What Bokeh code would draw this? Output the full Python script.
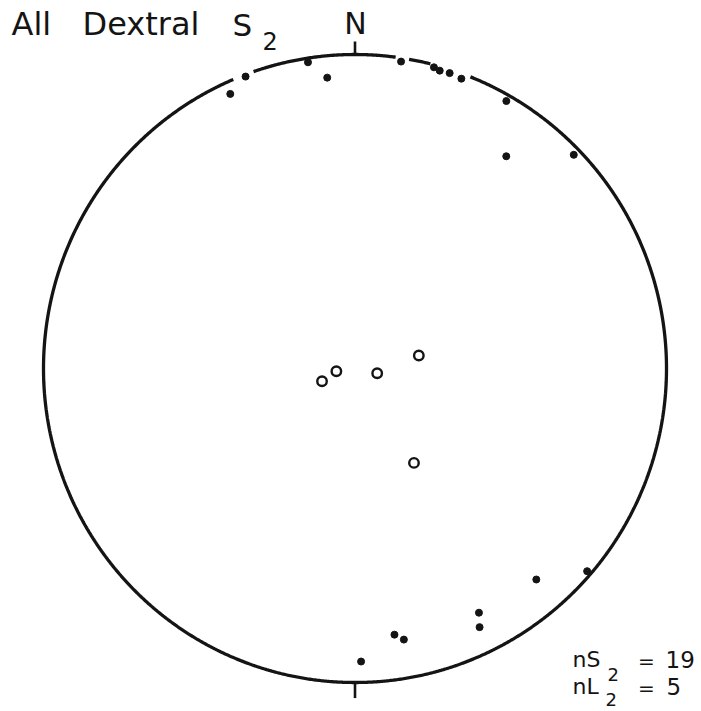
import numpy as np
from bokeh.plotting import figure
from bokeh.models import Range1d
from bokeh.core.properties import value
from bokeh.embed import file_html
from bokeh.resources import INLINE

# ---- data: poles to S2 (filled) and L2 lineations (open), trend / plunge in degrees
s2_trend = [335.4, 339.3, 351.2, 354.5, 8.6, 14.8, 16.0, 17.9, 20.3, 29.7,
            35.7, 45.9, 130.9, 139.1, 152.9, 154.1, 171.5, 169.7, 178.8]
s2_plunge = [4.3, 0.7, 1.5, 7.7, 1.3, 0.9, 1.5, 1.3, 1.8, 2.2,
             17.9, 2.5, 1.6, 12.1, 13.7, 9.3, 15.4, 13.3, 7.4]
l2_trend = [249.0, 261.8, 101.9, 78.6, 147.8]
l2_plunge = [80.8, 85.1, 84.1, 73.0, 60.9]
# primitive circle drawn with small gaps (trend intervals, degrees) as in the drafted original
circle_gaps = [(337.2, 341.0), (7.5, 9.9), (14.0, 21.6)]

title_words = ["All", "Dextral"]
label_s = "S"
label_sub = "2"

# ---- layout (pixels of the page; figure drawn from the page's top-left corner)
W, H = 701, 711
OX, OY = 0, 0
CX, CY, RX, RY = 354.5, 368.0, 311.5, 314.0
INK = "#141414"
FONT = value("DejaVu Sans")


def pd(px, py):
    """page pixel -> data coords (for placing labels)"""
    return (px - CX) / RX, (CY - py) / RY


def project(trend, plunge):
    t = np.radians(np.asarray(trend, float))
    theta = np.radians(90.0 - np.asarray(plunge, float))
    r = np.sqrt(2.0) * np.sin(theta / 2.0)
    return r * np.sin(t), r * np.cos(t)


p = figure(width=W, height=H, output_backend="svg", toolbar_location=None,
           x_range=Range1d((OX - CX) / RX, (OX + W - CX) / RX),
           y_range=Range1d((CY - OY - H) / RY, (CY - OY) / RY),
           min_border=0, outline_line_color=None, background_fill_color="white",
           border_fill_color="white")
p.axis.visible = False
p.grid.visible = False

# primitive circle with gaps
az = np.linspace(0, 360, 1441)
keep = np.ones_like(az, bool)
for a, b in circle_gaps:
    keep &= ~((az > a) & (az < b))
xs, ys = [], []
seg_x, seg_y = [], []
for k, a in zip(keep, az):
    if k:
        seg_x.append(np.sin(np.radians(a)))
        seg_y.append(np.cos(np.radians(a)))
    elif seg_x:
        xs.append(seg_x); ys.append(seg_y); seg_x, seg_y = [], []
if seg_x:
    xs.append(seg_x); ys.append(seg_y)
p.multi_line(xs, ys, line_color=INK, line_width=3.3)

# N and S ticks
tick = 13.0 / RY
p.segment(x0=[0, 0], y0=[1, -1], x1=[0, 0], y1=[1 + tick, -1 - tick * 1.2],
          line_color=INK, line_width=2.6)

# data
sx, sy = project(s2_trend, s2_plunge)
lx, ly = project(l2_trend, l2_plunge)
p.scatter(sx, sy, size=7, marker="circle", fill_color=INK, line_color=INK)
p.scatter(lx, ly, size=9.5, marker="circle", fill_color=None, line_color=INK, line_width=2.4)


def txt(s, px, py, size, align="left"):
    # py is the wanted baseline; the rendered baseline sits ~0.4 em lower
    x, y = pd(px, py - 0.4 * size)
    p.text(x=[x], y=[y], text=[s], text_font=FONT, text_font_size=f"{size}px",
           text_color=INK, text_align=align, text_baseline="alphabetic")


# title
txt(title_words[0], 11, 36.5, 32)
txt(title_words[1], 82, 36.5, 32)
txt(label_s, 232, 36.5, 31)
txt(label_sub, 262, 50, 24)
# north label
txt("N", 355, 35, 30, "center")
# counts
n_s2, n_l2 = len(s2_trend), len(l2_trend)
txt("nS", 572, 668, 22)
txt("2", 607, 681, 18)
txt("=", 646, 668, 20, "center")
txt(str(n_s2), 665, 668, 23)
txt("nL", 572, 695, 22)
txt("2", 605, 706, 18)
txt("=", 646, 695, 20, "center")
txt(str(n_l2), 666, 695, 23)

open("out.html", "w").write(file_html(p, INLINE))
